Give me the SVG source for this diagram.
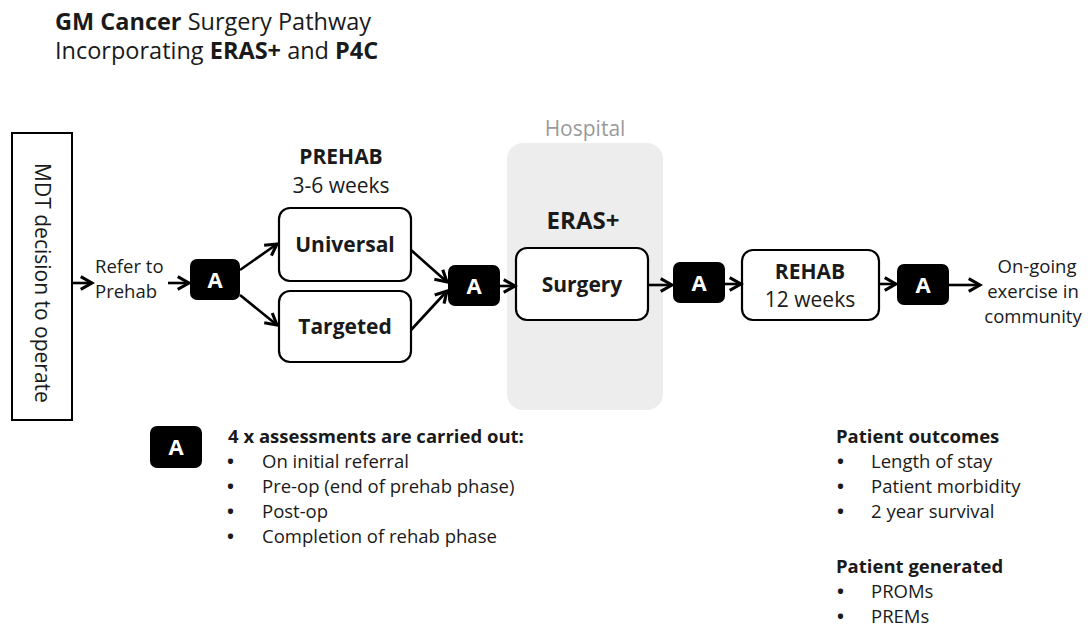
<svg xmlns="http://www.w3.org/2000/svg" width="1088" height="629" viewBox="0 0 1088 629">
<defs>
<style>
text{font-family:"Open Sans","Liberation Sans",sans-serif;fill:#1a1a1a}
.t{font-size:23.5px}
.b{font-weight:bold}
.m{font-size:21px}
.s{font-size:18.5px}
.bu{font-size:18.5px;font-weight:bold}
.box{fill:#fff;stroke:#000;stroke-width:2.2}
.abox{fill:#000}
.atext{fill:#fff;font-size:22px;font-weight:bold}
.c{stroke:#000;stroke-width:2.6;fill:none;marker-end:url(#arr)}
</style>
<marker id="arr" viewBox="0 0 12 12" refX="10" refY="6" markerWidth="6.5" markerHeight="6.5" markerUnits="strokeWidth" orient="auto">
<path d="M2,1.5 L10,6 L2,10.5" fill="none" stroke="#000" stroke-width="2.2"/>
</marker>
</defs>
<rect width="1088" height="629" fill="#fff"/>
<g id="title">
<text class="t" x="55" y="30"><tspan class="b">GM Cancer</tspan> Surgery Pathway</text>
<text class="t" x="55" y="59">Incorporating <tspan class="b">ERAS+</tspan> and <tspan class="b">P4C</tspan></text>
</g>
<g id="hospital">
<rect x="507" y="143" width="156" height="267" rx="16" fill="#ededed"/>
<text class="m" x="585" y="136" text-anchor="middle" style="fill:#9a9a9a">Hospital</text>
<text x="583" y="229" text-anchor="middle" class="b" style="font-size:24px">ERAS+</text>
</g>
<g id="mdt">
<rect x="12" y="133" width="60" height="287" fill="#fff" stroke="#000" stroke-width="2"/>
<text class="m" transform="translate(42,283) rotate(90)" text-anchor="middle" dy="7">MDT decision to operate</text>
</g>
<g id="refer">
<text class="s" x="95" y="273">Refer to</text>
<text class="s" x="95" y="298">Prehab</text>
</g>
<g id="a1">
<rect class="abox" x="190" y="259" width="50" height="41" rx="7"/>
<text class="atext" x="215" y="288" text-anchor="middle">A</text>
</g>
<g id="prehab">
<text class="m b" x="341" y="164" text-anchor="middle">PREHAB</text>
<text class="m" x="341" y="193" text-anchor="middle">3-6 weeks</text>
</g>
<g id="universal">
<rect class="box" x="279" y="208" width="132" height="73" rx="11"/>
<text class="m b" x="345" y="252" text-anchor="middle">Universal</text>
</g>
<g id="targeted">
<rect class="box" x="279" y="291" width="132" height="71" rx="11"/>
<text class="m b" x="345" y="334" text-anchor="middle">Targeted</text>
</g>
<g id="a2">
<rect class="abox" x="448" y="265" width="52" height="41" rx="7"/>
<text class="atext" x="474" y="294" text-anchor="middle">A</text>
</g>
<g id="surgery">
<rect class="box" x="516" y="248" width="132" height="72" rx="11"/>
<text class="m b" x="582" y="292" text-anchor="middle">Surgery</text>
</g>
<g id="a3">
<rect class="abox" x="673" y="262" width="52" height="41" rx="7"/>
<text class="atext" x="699" y="291" text-anchor="middle">A</text>
</g>
<g id="rehab">
<rect class="box" x="742" y="250" width="137" height="70" rx="11"/>
<text class="m b" x="810" y="279" text-anchor="middle">REHAB</text>
<text class="m" x="810" y="307" text-anchor="middle">12 weeks</text>
</g>
<g id="a4">
<rect class="abox" x="897" y="264" width="52" height="41" rx="7"/>
<text class="atext" x="923" y="293" text-anchor="middle">A</text>
</g>
<g id="ongoing">
<text class="s" x="1037" y="273" text-anchor="middle">On-going</text>
<text class="s" x="1033" y="298" text-anchor="middle">exercise in</text>
<text class="s" x="1033" y="323" text-anchor="middle">community</text>
</g>
<g id="connectors">
<line class="c" x1="73" y1="283" x2="92" y2="283"/>
<line class="c" x1="168" y1="283" x2="189" y2="283"/>
<line class="c" x1="240" y1="270" x2="277" y2="244"/>
<line class="c" x1="240" y1="295" x2="277" y2="325"/>
<line class="c" x1="411" y1="250" x2="447" y2="282"/>
<line class="c" x1="411" y1="330" x2="447" y2="291"/>
<line class="c" x1="500" y1="286" x2="515" y2="286"/>
<line class="c" x1="648" y1="285" x2="672" y2="285"/>
<line class="c" x1="725" y1="284" x2="741" y2="284"/>
<line class="c" x1="879" y1="284" x2="896" y2="284"/>
<line class="c" x1="949" y1="285" x2="980" y2="285"/>
</g>
<g id="legend">
<rect class="abox" x="150" y="426" width="52" height="42" rx="7"/>
<text class="atext" x="176" y="455" text-anchor="middle">A</text>
<text class="s b" x="228" y="443">4 x assessments are carried out:</text>
<text class="bu" x="227" y="468">•</text><text class="s" x="262" y="468">On initial referral</text>
<text class="bu" x="227" y="493">•</text><text class="s" x="262" y="493">Pre-op (end of prehab phase)</text>
<text class="bu" x="227" y="518">•</text><text class="s" x="262" y="518">Post-op</text>
<text class="bu" x="227" y="543">•</text><text class="s" x="262" y="543">Completion of rehab phase</text>
</g>
<g id="outcomes">
<text class="s b" x="836" y="443">Patient outcomes</text>
<text class="bu" x="837" y="468">•</text><text class="s" x="871" y="468">Length of stay</text>
<text class="bu" x="837" y="493">•</text><text class="s" x="871" y="493">Patient morbidity</text>
<text class="bu" x="837" y="518">•</text><text class="s" x="871" y="518">2 year survival</text>
<text class="s b" x="836" y="573">Patient generated</text>
<text class="bu" x="837" y="598">•</text><text class="s" x="871" y="598">PROMs</text>
<text class="bu" x="837" y="623">•</text><text class="s" x="871" y="623">PREMs</text>
</g>
</svg>
